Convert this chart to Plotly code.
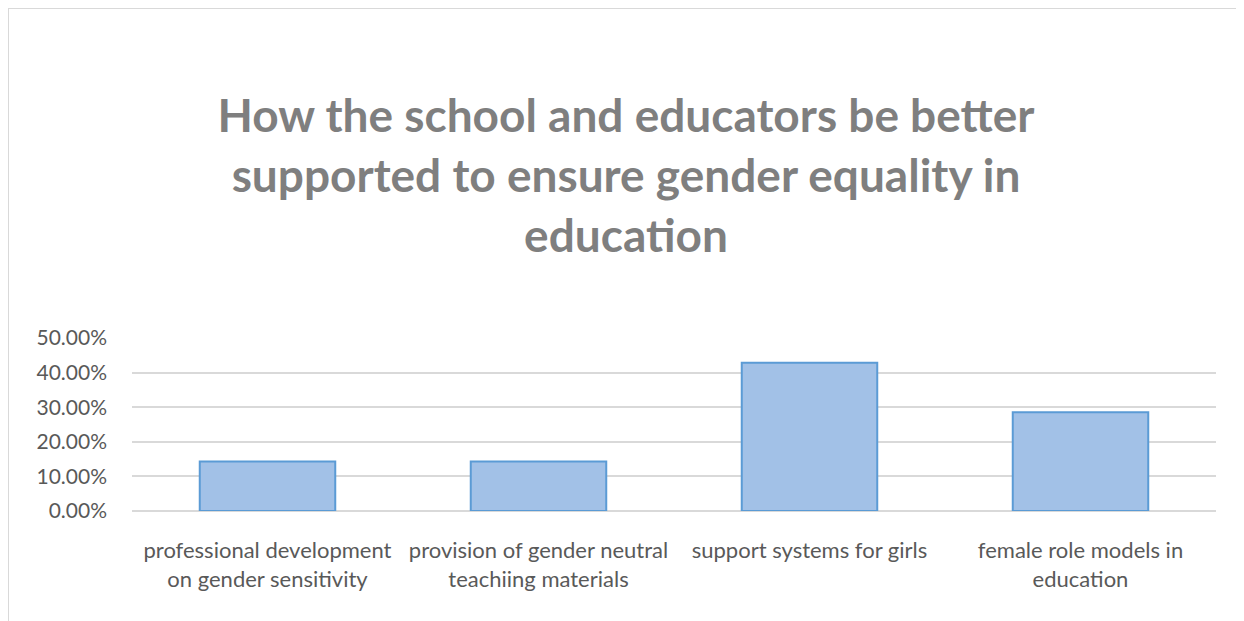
import plotly.graph_objects as go

categories = [
    "professional development on gender sensitivity",
    "provision of gender neutral teachiing materials",
    "support systems for girls",
    "female role models in education",
]
tick_labels = [
    "professional development<br>on gender sensitivity",
    "provision of gender neutral<br>teachiing materials",
    "support systems for girls",
    "female role models in<br>education",
]
values = [14.29, 14.29, 42.86, 28.57]
y_ticks = [0, 10, 20, 30, 40, 50]
y_tick_labels = ["0.00%", "10.00%", "20.00%", "30.00%", "40.00%", "50.00%"]

W, H = 1236, 613
L, R, T, B = 124, 28, 330, 110

fig = go.Figure()
fig.add_trace(go.Bar(
    x=categories, y=values, width=0.5,
    marker=dict(color="#a2c1e7", line=dict(color="#5b9bd5", width=2)),
    hoverinfo="x+y",
))

pw = W - L - R
ph = H - T - B
def px_x(p):
    return (p - L) / pw
def px_y(p):
    return (H - B - p) / ph

fig.update_layout(
    width=W, height=H,
    margin=dict(l=L, r=R, t=T, b=B),
    paper_bgcolor="white", plot_bgcolor="white",
    showlegend=False,
    title=dict(
        text="How the school and educators be better<br>supported to ensure gender equality in<br>education",
        x=0.5, xref="container", xanchor="center",
        y=1 - 124 / H, yref="container", yanchor="top",
        font=dict(family="Lato", size=46, color="#7f7f7f", weight="bold"),
    ),
    xaxis=dict(
        tickmode="array", tickvals=categories, ticktext=tick_labels,
        tickfont=dict(family="Lato", size=22, color="#595959"),
        showline=False, showgrid=False, ticks="", ticklabelstandoff=24,
    ),
    yaxis=dict(
        range=[0, 50], tickmode="array", tickvals=y_ticks, ticktext=y_tick_labels,
        tickfont=dict(family="Lato", size=21, color="#595959"),
        showgrid=True, gridcolor="#d9d9d9", gridwidth=2,
        zeroline=True, zerolinecolor="#d9d9d9", zerolinewidth=2,
        ticks="", ticklabelstandoff=24,
    ),
    shapes=[dict(
        type="rect", xref="paper", yref="paper",
        x0=px_x(0), x1=px_x(1234), y0=px_y(640), y1=px_y(0),
        line=dict(color="#d9d9d9", width=2), fillcolor="rgba(0,0,0,0)", layer="below",
    )],
)

fig.write_html("out.html")
